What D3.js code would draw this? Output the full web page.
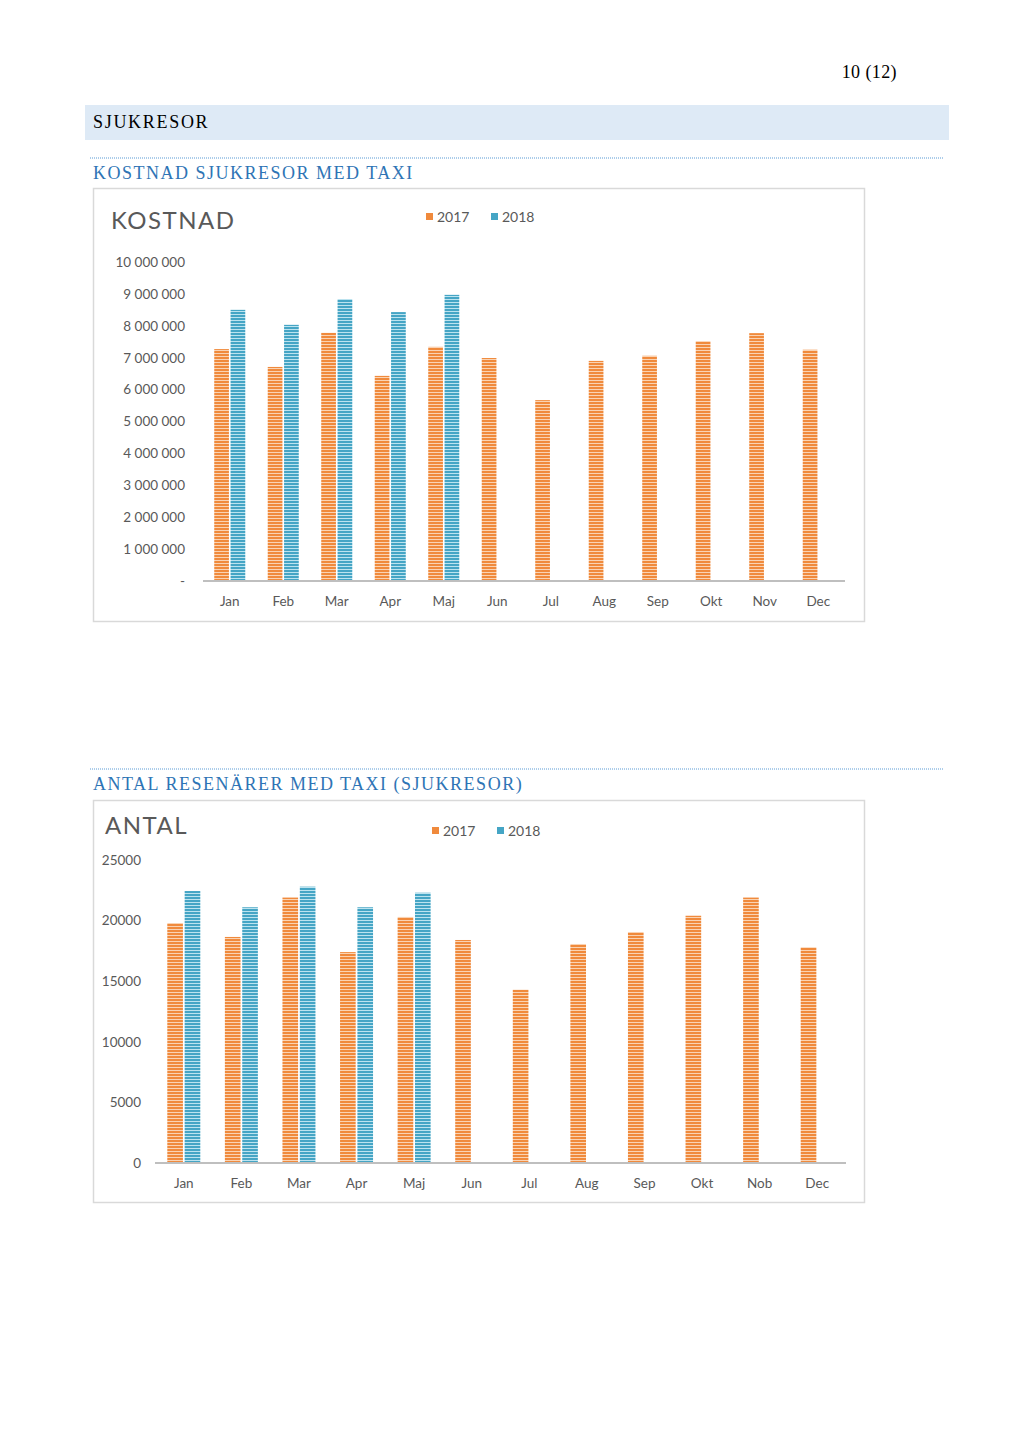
<!DOCTYPE html>
<html><head><meta charset="utf-8">
<script src="https://cdn.jsdelivr.net/npm/d3@7"></script>
<style>
html,body{margin:0;padding:0;background:#fff;}
svg{display:block;}
</style></head>
<body>
<svg id="page" width="1024" height="1448"></svg>
<script>
// ---- data ----
const monthsCost = ["Jan","Feb","Mar","Apr","Maj","Jun","Jul","Aug","Sep","Okt","Nov","Dec"];
const monthsAntal = ["Jan","Feb","Mar","Apr","Maj","Jun","Jul","Aug","Sep","Okt","Nob","Dec"];
const years = ["2017","2018"];
const cost2017 = [7270000,6710000,7780000,6430000,7340000,6990000,5670000,6900000,7060000,7520000,7770000,7250000];
const cost2018 = [8500000,8030000,8840000,8430000,8970000,null,null,null,null,null,null,null];
const antal2017 = [19800,18650,21900,17400,20300,18400,14300,18070,19060,20400,21900,17800];
const antal2018 = [22440,21100,22800,21100,22300,null,null,null,null,null,null,null];
const costTicks = [0,1000000,2000000,3000000,4000000,5000000,6000000,7000000,8000000,9000000,10000000];
const antalTicks = [0,5000,10000,15000,20000,25000];

const svg = d3.select("#page");
const serif = "'Liberation Serif','Times New Roman',serif";
const sans = "Lato,'Open Sans',sans-serif";
const colors = {"2017":"#F08A3C","2018":"#45A5C5"};
const lightColors = {"2017":"#FAD3B3","2018":"#BCE3EF"};

// patterns
const defs = svg.append("defs");
years.forEach(y=>{
  const p = defs.append("pattern").attr("id","pat"+y).attr("patternUnits","userSpaceOnUse")
    .attr("width",4).attr("height",3);
  p.append("rect").attr("width",4).attr("height",3).attr("fill",lightColors[y]);
  p.append("rect").attr("width",4).attr("height",2).attr("fill",colors[y]);
});

// page header
svg.append("text").attr("x",897).attr("y",78).attr("text-anchor","end")
  .attr("font-family",serif).attr("font-size",18).attr("letter-spacing",0.4).attr("fill","#000").text("10 (12)");
svg.append("rect").attr("x",85).attr("y",105).attr("width",864).attr("height",35).attr("fill","#DEEAF6");
svg.append("text").attr("x",93).attr("y",128).attr("font-family",serif).attr("font-size",18)
  .attr("letter-spacing",1.7).attr("fill","#000").text("SJUKRESOR");

function section(y, label){
  svg.append("line").attr("x1",90).attr("x2",943).attr("y1",y).attr("y2",y)
    .attr("stroke","#5B9BD5").attr("stroke-width",1).attr("stroke-dasharray","1,1");
  svg.append("text").attr("x",93).attr("y",y+21).attr("font-family",serif).attr("font-size",18)
    .attr("letter-spacing",1.5).attr("fill","#2E74B5").text(label);
}
section(158,"KOSTNAD SJUKRESOR MED TAXI");
section(769,"ANTAL RESENÄRER MED TAXI (SJUKRESOR)");

function chart(o){
  const g = svg.append("g");
  g.append("rect").attr("x",o.box[0]+0.5).attr("y",o.box[1]+0.5).attr("width",o.box[2]).attr("height",o.box[3])
    .attr("fill","#fff").attr("stroke","#D9D9D9").attr("stroke-width",1.5);
  g.append("text").attr("x",o.titleX).attr("y",o.titleY).attr("font-family",sans).attr("font-size",24)
    .attr("letter-spacing",1.5).attr("fill","#595959").text(o.title);
  // legend
  years.forEach((yr,i)=>{
    const lx = o.legX + i*o.legStep;
    g.append("rect").attr("x",lx).attr("y",o.legY-4).attr("width",7).attr("height",7).attr("fill",colors[yr]);
    g.append("text").attr("x",lx+11).attr("y",o.legY+5).attr("font-family",sans).attr("font-size",14)
      .attr("fill","#595959").text(yr);
  });
  const x = d3.scaleBand().domain(o.cats).range([o.x0,o.x1]).paddingInner(o.pad).paddingOuter(o.pad/2);
  const xi = d3.scaleBand().domain(years).range([0,x.bandwidth()]).paddingInner(0.1);
  const y = d3.scaleLinear().domain([0,o.max]).range([o.y0,o.y1]);
  // y axis labels
  const ya = d3.axisLeft(y).tickValues(o.ticks).tickSize(0).tickPadding(0).tickFormat(o.fmt);
  const yg = g.append("g").attr("transform",`translate(${o.yLabX},0)`).call(ya);
  yg.select(".domain").remove();
  yg.selectAll("text").attr("font-family",sans).attr("font-size",13.5).attr("fill","#595959");
  // bars
  const series = [o.s2017,o.s2018];
  years.forEach((yr,si)=>{
    g.append("g").selectAll("rect").data(o.cats.map((c,i)=>({c,v:series[si][i]})).filter(d=>d.v!=null))
      .enter().append("rect")
      .attr("x",d=>x(d.c)+xi(yr)).attr("width",xi.bandwidth())
      .attr("y",d=>y(d.v)).attr("height",d=>y(0)-y(d.v))
      .attr("fill",`url(#pat${yr})`);
  });
  // x axis
  const xa = d3.axisBottom(x).tickSize(0).tickPadding(15);
  const xg = g.append("g").attr("transform",`translate(0,${o.y0})`).call(xa);
  xg.select(".domain").attr("stroke","#BFBFBF").attr("stroke-width",2)
    .attr("d",`M${o.x0},0H${o.x1}`);
  xg.selectAll("text").attr("font-family",sans).attr("font-size",13.5).attr("fill","#595959");
}

chart({
  box:[93,188,771,433], title:"KOSTNAD", titleX:111, titleY:229,
  legX:426, legY:217, legStep:65,
  cats:monthsCost, x0:203, x1:845, pad:0.42, y0:581, y1:262, max:10000000,
  ticks:costTicks, yLabX:185,
  fmt:d=> d===0 ? "-" : d3.format(",")(d).replace(/,/g," "),
  s2017:cost2017, s2018:cost2018
});
chart({
  box:[93,800,771,402], title:"ANTAL", titleX:105, titleY:834,
  legX:432, legY:831, legStep:65,
  cats:monthsAntal, x0:155, x1:846, pad:0.427, y0:1163, y1:860, max:25000,
  ticks:antalTicks, yLabX:141,
  fmt:d=>String(d),
  s2017:antal2017, s2018:antal2018
});
</script>
</body></html>
